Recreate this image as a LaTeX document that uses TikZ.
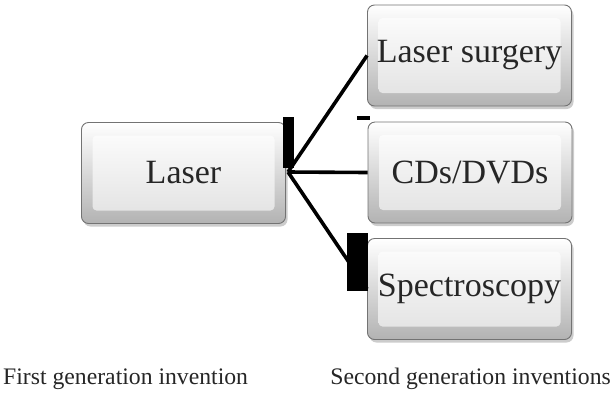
\documentclass[tikz,border=0pt]{standalone}
\usepackage{fontspec}
\setmainfont{Liberation Serif}
\usetikzlibrary{shadows}
\tikzset{
  bevbox/.style={draw=black!55, line width=0.9pt, rounded corners=7pt,
    minimum width=204pt, minimum height=101pt, inner sep=0pt,
    top color=white, bottom color=black!30,
    drop shadow={opacity=0.4, shadow xshift=2pt, shadow yshift=-3pt},
    font=\fontsize{34}{40}\selectfont, text=black!85,
    path picture={
      \shade[top color=white, bottom color=black!12, rounded corners=4pt]
        ([shift={(11pt,-13pt)}]path picture bounding box.north west) rectangle
        ([shift={(-11pt,13pt)}]path picture bounding box.south east);
    }},
  conn/.style={line width=3.6pt, black},
  glitch/.style={fill=black},
  caption/.style={font=\fontsize{23.7}{28}\selectfont, text=black!85, inner sep=0pt}
}
\begin{document}
\begin{tikzpicture}[x=1pt,y=-1pt]
\useasboundingbox (0,0) rectangle (613,392);
\node[bevbox] (laser) at (183.5,173) {Laser};
\node[bevbox] (ls) at (469.5,55.5) {Laser surgery};
\node[bevbox] (cd) at (470,172.5) {CDs/DVDs};
\node[bevbox] (sp) at (469.5,289) {Spectroscopy};
\coordinate (root) at (288,172);
\draw[conn] (root) -- (ls.west);
\draw[conn] (root) -- (cd.west);
\draw[conn] (root) -- (sp.west);
\fill[glitch] (283,117) rectangle (294,168);
\fill[glitch] (357,116) rectangle (370,119.5);
\fill[glitch] (347,233) rectangle (368,291);
\node[caption, anchor=base west] (c1) at (3,384) {First generation invention};
\node[caption, anchor=base east] (c2) at (611,384) {Second generation inventions};
\end{tikzpicture}
\end{document}
